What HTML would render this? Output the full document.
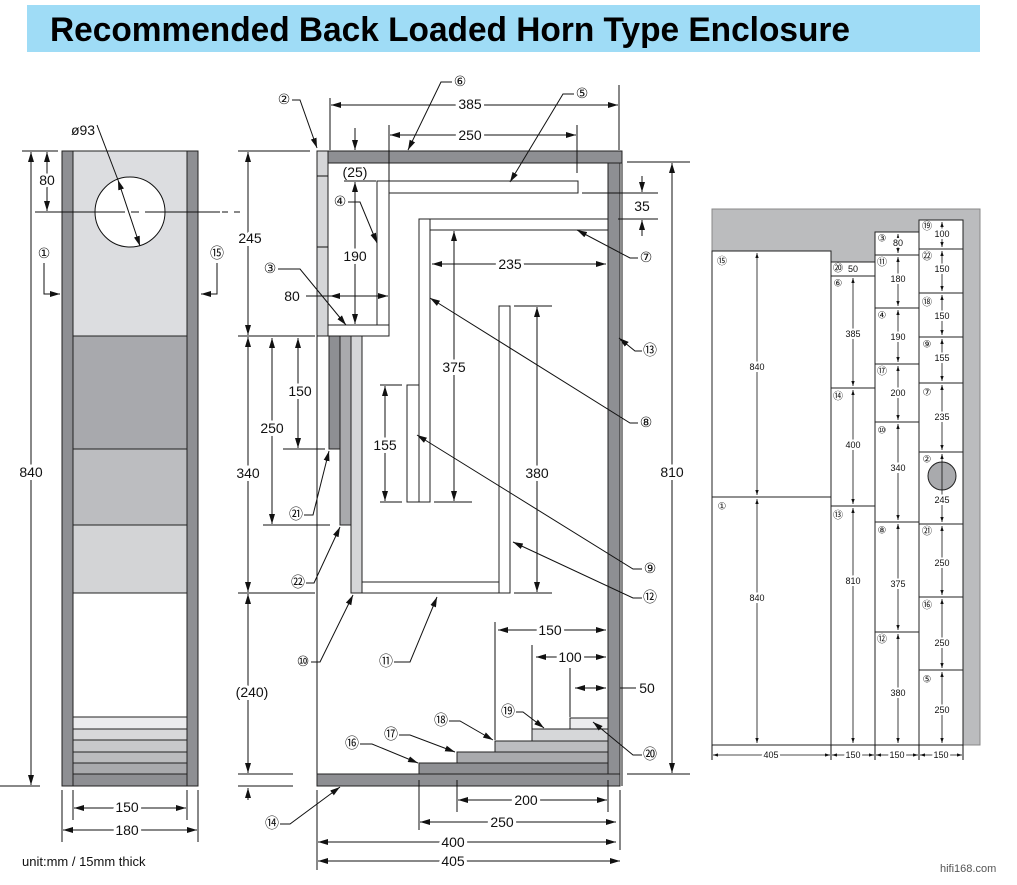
<!DOCTYPE html>
<html><head><meta charset="utf-8"><style>
html,body{margin:0;padding:0;background:#fff}
svg{display:block}
text{font-family:"Liberation Sans","DejaVu Sans",sans-serif;fill:#111}
.d{font-size:14px;text-anchor:middle;dominant-baseline:central;stroke:#fff;stroke-width:6px;paint-order:stroke}
.c{font-family:"DejaVu Sans","Noto Sans CJK JP",sans-serif;font-size:14px;text-anchor:middle;dominant-baseline:central}
.s{font-size:9px;text-anchor:middle;dominant-baseline:central;stroke:#fff;stroke-width:4px;paint-order:stroke}
.sc{font-family:"DejaVu Sans","Noto Sans CJK JP",sans-serif;font-size:10px;text-anchor:middle;dominant-baseline:central}
line,polyline,path{stroke:#111;stroke-width:1;fill:none}
.a{marker-end:url(#ar)}
.aa{marker-start:url(#ar);marker-end:url(#ar)}
.sa{marker-start:url(#sar);marker-end:url(#sar);stroke-width:.8}
rect{stroke:#222;stroke-width:1}
</style></head><body>
<svg width="1017" height="885" viewBox="0 0 1017 885" xmlns="http://www.w3.org/2000/svg">
<defs>
<marker id="ar" viewBox="0 0 10 6" refX="10" refY="3" markerWidth="10" markerHeight="6" markerUnits="userSpaceOnUse" orient="auto-start-reverse"><path d="M0,0 L10,3 L0,6 z" style="fill:#111;stroke:none"/></marker>
<marker id="sar" viewBox="0 0 6 4" refX="6" refY="2" markerWidth="5" markerHeight="4" markerUnits="userSpaceOnUse" orient="auto-start-reverse"><path d="M0,0 L6,2 L0,4 z" style="fill:#111;stroke:none"/></marker>
</defs>
<!-- title -->
<rect x="27" y="5" width="953" height="47" style="fill:#9fdcf6;stroke:none"/>
<text x="50" y="41" textLength="800" lengthAdjust="spacingAndGlyphs" style="font-size:34px;font-weight:bold;fill:#000">Recommended Back Loaded Horn Type Enclosure</text>

<!-- LEFT VIEW -->
<rect x="73" y="151" width="114" height="185" style="fill:#dcdde0"/>
<rect x="73" y="336" width="114" height="113" style="fill:#a8a9ad"/>
<rect x="73" y="449" width="114" height="76" style="fill:#bcbdc0"/>
<rect x="73" y="525" width="114" height="68" style="fill:#d3d4d6"/>
<rect x="73" y="593" width="114" height="124" style="fill:#fff"/>
<rect x="73" y="717" width="114" height="12" style="fill:#ececee"/>
<rect x="73" y="729" width="114" height="11" style="fill:#d8d8da"/>
<rect x="73" y="740" width="114" height="12" style="fill:#c8c9cb"/>
<rect x="73" y="752" width="114" height="11" style="fill:#bbbcbe"/>
<rect x="73" y="763" width="114" height="11" style="fill:#a9aaad"/>
<rect x="73" y="774" width="114" height="12" style="fill:#8e8f93"/>
<rect x="62" y="151" width="11" height="635" style="fill:#8e8f93"/>
<rect x="187" y="151" width="11" height="635" style="fill:#8e8f93"/>
<circle cx="130" cy="212" r="35" style="fill:#fff;stroke:#111;stroke-width:1"/>
<line x1="35" y1="212" x2="220" y2="212" style="stroke-dasharray:90,6,8,6"/>
<line x1="222" y1="212" x2="240" y2="212" style="stroke-dasharray:6,6"/>
<line class="aa" x1="118" y1="180" x2="140" y2="246"/>
<line x1="97" y1="125" x2="118" y2="180"/>
<text class="d" x="83" y="130" style="stroke:none">ø93</text>
<line x1="22" y1="151" x2="58" y2="151"/><line x1="0" y1="786" x2="40" y2="786"/>
<line class="aa" x1="31" y1="152" x2="31" y2="785"/><text class="d" x="31" y="472">840</text>
<line class="aa" x1="47" y1="152" x2="47" y2="211"/><text class="d" x="47" y="180">80</text>
<text class="c" x="44" y="254">①</text><polyline class="a" points="44,263 44,294 60,294"/>
<text class="c" x="217" y="254">⑮</text><polyline class="a" points="217,263 217,294 201,294"/>
<line x1="62" y1="790" x2="62" y2="842"/><line x1="73" y1="790" x2="73" y2="820"/>
<line x1="187" y1="790" x2="187" y2="820"/><line x1="198" y1="790" x2="198" y2="842"/>
<line class="aa" x1="74" y1="808" x2="186" y2="808"/><text class="d" x="127" y="807">150</text>
<line class="aa" x1="63" y1="830" x2="197" y2="830"/><text class="d" x="127" y="830">180</text>
<text x="22" y="866" style="font-size:13px">unit:mm / 15mm thick</text>

<!-- MIDDLE VIEW -->
<line x1="317" y1="336" x2="317" y2="786"/>
<line x1="622" y1="151" x2="622" y2="786"/>
<rect x="317" y="151" width="11" height="185" style="fill:#d5d6d8"/>
<line x1="317" y1="176" x2="328" y2="176"/><line x1="317" y1="247" x2="328" y2="247"/>
<rect x="328" y="151" width="294" height="12" style="fill:#8e8f93"/>
<rect x="608" y="163" width="12" height="611" style="fill:#8e8f93"/>
<rect x="317" y="774" width="303" height="12" style="fill:#8e8f93"/>
<rect x="328" y="325" width="61" height="11" style="fill:#fff"/>
<rect x="377" y="181" width="12" height="144" style="fill:#fff"/>
<rect x="389" y="181" width="189" height="12" style="fill:#fff"/>
<rect x="419" y="219" width="11" height="283" style="fill:#fff"/>
<rect x="430" y="219" width="178" height="11" style="fill:#fff"/>
<rect x="407" y="385" width="12" height="117" style="fill:#fff"/>
<rect x="499" y="306" width="11" height="287" style="fill:#fff"/>
<rect x="362" y="582" width="137" height="11" style="fill:#fff"/>
<rect x="329" y="336" width="11" height="113" style="fill:#8e8f93"/>
<rect x="340" y="336" width="11" height="189" style="fill:#a9aaad"/>
<rect x="351" y="336" width="11" height="257" style="fill:#d5d6d8"/>
<rect x="419" y="763" width="189" height="11" style="fill:#8e8f93"/>
<rect x="457" y="752" width="151" height="11" style="fill:#a9aaad"/>
<rect x="495" y="741" width="113" height="11" style="fill:#bcbdc0"/>
<rect x="532" y="729" width="76" height="12" style="fill:#d6d7d9"/>
<rect x="570" y="718" width="38" height="11" style="fill:#ececee"/>

<!-- middle dims -->
<line x1="330" y1="98" x2="330" y2="150"/><line x1="619" y1="85" x2="619" y2="150"/>
<line class="aa" x1="331" y1="105" x2="618" y2="105"/><text class="d" x="470" y="104">385</text>
<line x1="389" y1="125" x2="389" y2="181"/><line x1="577" y1="125" x2="577" y2="173"/>
<line class="aa" x1="390" y1="135" x2="576" y2="135"/><text class="d" x="470" y="135">250</text>
<line class="a" x1="355" y1="128" x2="355" y2="150"/>
<text class="d" x="355" y="172" style="stroke:none">(25)</text>
<line x1="344" y1="181" x2="376" y2="181"/>
<line class="aa" x1="355" y1="182" x2="355" y2="324"/><text class="d" x="355" y="256">190</text>
<line x1="306" y1="296" x2="330" y2="296"/>
<line class="aa" x1="330" y1="296" x2="388" y2="296"/><text class="d" x="292" y="296" style="stroke:none">80</text>
<line x1="582" y1="193" x2="658" y2="193"/><line x1="618" y1="219" x2="658" y2="219"/>
<line class="a" x1="642" y1="176" x2="642" y2="192"/><line class="a" x1="642" y1="236" x2="642" y2="220"/>
<text class="d" x="642" y="206">35</text>
<line class="aa" x1="432" y1="264" x2="606" y2="264"/><text class="d" x="510" y="264">235</text>
<line class="aa" x1="454" y1="231" x2="454" y2="501"/><text class="d" x="454" y="367">375</text>
<line x1="434" y1="502" x2="472" y2="502"/>
<line x1="380" y1="385" x2="402" y2="385"/><line x1="380" y1="502" x2="402" y2="502"/>
<line class="aa" x1="385" y1="386" x2="385" y2="501"/><text class="d" x="385" y="445">155</text>
<line x1="514" y1="306" x2="552" y2="306"/><line x1="514" y1="593" x2="552" y2="593"/>
<line class="aa" x1="537" y1="307" x2="537" y2="592"/><text class="d" x="537" y="473">380</text>
<line x1="627" y1="162" x2="690" y2="162"/><line x1="627" y1="774" x2="690" y2="774"/>
<line class="aa" x1="672" y1="163" x2="672" y2="773"/><text class="d" x="672" y="472">810</text>
<line x1="238" y1="151" x2="310" y2="151"/><line x1="238" y1="336" x2="315" y2="336"/>
<line x1="238" y1="593" x2="315" y2="593"/><line x1="238" y1="774" x2="293" y2="774"/><line x1="238" y1="786" x2="293" y2="786"/>
<line class="aa" x1="248" y1="152" x2="248" y2="335"/><text class="d" x="250" y="238">245</text>
<line class="aa" x1="248" y1="337" x2="248" y2="592"/><text class="d" x="248" y="473">340</text>
<line class="aa" x1="248" y1="594" x2="248" y2="773"/><text class="d" x="252" y="692">(240)</text>
<line class="a" x1="248" y1="800" x2="248" y2="788"/>
<line x1="263" y1="525" x2="330" y2="525"/><line x1="283" y1="449" x2="325" y2="449"/>
<line class="aa" x1="272" y1="338" x2="272" y2="524"/><text class="d" x="272" y="428">250</text>
<line class="aa" x1="298" y1="338" x2="298" y2="448"/><text class="d" x="300" y="391">150</text>
<line x1="495" y1="622" x2="495" y2="740"/><line x1="532" y1="645" x2="532" y2="729"/><line x1="570" y1="668" x2="570" y2="717"/>
<line class="aa" x1="498" y1="630" x2="606" y2="630"/><text class="d" x="550" y="630">150</text>
<line class="aa" x1="536" y1="657" x2="606" y2="657"/><text class="d" x="570" y="657">100</text>
<line class="aa" x1="575" y1="688" x2="606" y2="688"/><line x1="620" y1="688" x2="636" y2="688"/><text class="d" x="647" y="688">50</text>
<line x1="457" y1="780" x2="457" y2="812"/><line x1="608" y1="780" x2="608" y2="812"/><line x1="419" y1="780" x2="419" y2="830"/>
<line x1="317" y1="790" x2="317" y2="870"/><line x1="620" y1="790" x2="620" y2="850"/>
<line class="aa" x1="458" y1="800" x2="607" y2="800"/><text class="d" x="526" y="800">200</text>
<line class="aa" x1="420" y1="822" x2="616" y2="822"/><text class="d" x="502" y="822">250</text>
<line class="aa" x1="318" y1="842" x2="616" y2="842"/><text class="d" x="453" y="842">400</text>
<line class="aa" x1="318" y1="861" x2="620" y2="861"/><text class="d" x="453" y="861">405</text>

<!-- callouts -->
<text class="c" x="284" y="100">②</text><polyline class="a" points="292,100 300,100 317,148"/>
<text class="c" x="460" y="82">⑥</text><polyline class="a" points="452,82 441,82 408,150"/>
<text class="c" x="582" y="94">⑤</text><polyline class="a" points="574,94 563,94 510,182"/>
<text class="c" x="340" y="202">④</text><polyline class="a" points="348,202 360,202 377,243"/>
<text class="c" x="270" y="269">③</text><polyline class="a" points="278,269 300,269 346,325"/>
<text class="c" x="646" y="258">⑦</text><polyline class="a" points="638,258 630,258 577,230"/>
<text class="c" x="650" y="351">⑬</text><polyline class="a" points="642,351 635,351 619,338"/>
<text class="c" x="646" y="423">⑧</text><polyline class="a" points="638,423 630,423 430,298"/>
<text class="c" x="650" y="569">⑨</text><polyline class="a" points="642,569 633,569 417,435"/>
<text class="c" x="650" y="598">⑫</text><polyline class="a" points="642,598 633,598 513,542"/>
<text class="c" x="296" y="515">㉑</text><polyline class="a" points="304,515 313,515 329,451"/>
<text class="c" x="298" y="583">㉒</text><polyline class="a" points="306,583 314,583 340,527"/>
<text class="c" x="303" y="662">⑩</text><polyline class="a" points="311,662 320,662 353,595"/>
<text class="c" x="386" y="662">⑪</text><polyline class="a" points="394,662 410,662 437,597"/>
<text class="c" x="272" y="824">⑭</text><polyline class="a" points="280,824 290,824 340,787"/>
<text class="c" x="352" y="744">⑯</text><polyline class="a" points="360,744 372,744 418,763"/>
<text class="c" x="391" y="735">⑰</text><polyline class="a" points="399,735 410,735 455,752"/>
<text class="c" x="441" y="721">⑱</text><polyline class="a" points="449,721 460,721 493,740"/>
<text class="c" x="508" y="712">⑲</text><polyline class="a" points="516,712 523,712 544,728"/>
<text class="c" x="650" y="755">⑳</text><polyline class="a" points="642,755 633,755 593,722"/>

<!-- RIGHT VIEW (cut list) -->
<rect x="712" y="209" width="268" height="536" style="fill:#bbbcbe;stroke:#888"/>
<g>
<rect x="712" y="251" width="119" height="246" style="fill:#fff"/>
<rect x="712" y="497" width="119" height="248" style="fill:#fff"/>
<rect x="831" y="262" width="44" height="14" style="fill:#fff"/>
<rect x="831" y="276" width="44" height="112" style="fill:#fff"/>
<rect x="831" y="388" width="44" height="118" style="fill:#fff"/>
<rect x="831" y="506" width="44" height="239" style="fill:#fff"/>
<rect x="875" y="232" width="44" height="23" style="fill:#fff"/>
<rect x="875" y="255" width="44" height="53" style="fill:#fff"/>
<rect x="875" y="308" width="44" height="56" style="fill:#fff"/>
<rect x="875" y="364" width="44" height="58" style="fill:#fff"/>
<rect x="875" y="422" width="44" height="100" style="fill:#fff"/>
<rect x="875" y="522" width="44" height="110" style="fill:#fff"/>
<rect x="875" y="632" width="44" height="113" style="fill:#fff"/>
<rect x="919" y="220" width="44" height="29" style="fill:#fff"/>
<rect x="919" y="249" width="44" height="44" style="fill:#fff"/>
<rect x="919" y="293" width="44" height="44" style="fill:#fff"/>
<rect x="919" y="337" width="44" height="46" style="fill:#fff"/>
<rect x="919" y="383" width="44" height="69" style="fill:#fff"/>
<rect x="919" y="452" width="44" height="72" style="fill:#fff"/>
<rect x="919" y="524" width="44" height="73" style="fill:#fff"/>
<rect x="919" y="597" width="44" height="73" style="fill:#fff"/>
<rect x="919" y="670" width="44" height="75" style="fill:#fff"/>
</g>
<circle cx="942" cy="476" r="14" style="fill:#a9aaad;stroke:#222;stroke-width:1"/>
<line class="sa" x1="757" y1="253" x2="757" y2="495"/><line class="sa" x1="757" y1="499" x2="757" y2="743"/>
<line class="sa" x1="853" y1="278" x2="853" y2="386"/><line class="sa" x1="853" y1="390" x2="853" y2="504"/><line class="sa" x1="853" y1="508" x2="853" y2="743"/>
<line class="sa" x1="898" y1="234" x2="898" y2="253"/><line class="sa" x1="898" y1="257" x2="898" y2="306"/><line class="sa" x1="898" y1="310" x2="898" y2="362"/><line class="sa" x1="898" y1="366" x2="898" y2="420"/><line class="sa" x1="898" y1="424" x2="898" y2="520"/><line class="sa" x1="898" y1="524" x2="898" y2="630"/><line class="sa" x1="898" y1="634" x2="898" y2="743"/>
<line class="sa" x1="942" y1="222" x2="942" y2="247"/><line class="sa" x1="942" y1="251" x2="942" y2="291"/><line class="sa" x1="942" y1="295" x2="942" y2="335"/><line class="sa" x1="942" y1="339" x2="942" y2="381"/><line class="sa" x1="942" y1="385" x2="942" y2="450"/><line class="sa" x1="942" y1="454" x2="942" y2="522"/><line class="sa" x1="942" y1="526" x2="942" y2="595"/><line class="sa" x1="942" y1="599" x2="942" y2="668"/><line class="sa" x1="942" y1="672" x2="942" y2="743"/>
<text class="s" x="757" y="367">840</text><text class="s" x="757" y="598">840</text>
<text class="s" x="853" y="334">385</text><text class="s" x="853" y="445">400</text><text class="s" x="853" y="581">810</text>
<text class="s" x="853" y="269">50</text>
<text class="s" x="898" y="243">80</text><text class="s" x="898" y="279">180</text><text class="s" x="898" y="337">190</text><text class="s" x="898" y="393">200</text><text class="s" x="898" y="468">340</text><text class="s" x="898" y="584">375</text><text class="s" x="898" y="693">380</text>
<text class="s" x="942" y="234">100</text><text class="s" x="942" y="269">150</text><text class="s" x="942" y="316">150</text><text class="s" x="942" y="358">155</text><text class="s" x="942" y="417">235</text><text class="s" x="942" y="500">245</text><text class="s" x="942" y="563">250</text><text class="s" x="942" y="643">250</text><text class="s" x="942" y="710">250</text>
<text class="sc" x="722" y="262">⑮</text><text class="sc" x="722" y="507">①</text>
<text class="sc" x="838" y="269">⑳</text><text class="sc" x="838" y="284">⑥</text><text class="sc" x="838" y="397">⑭</text><text class="sc" x="838" y="516">⑬</text>
<text class="sc" x="882" y="239">③</text><text class="sc" x="882" y="263">⑪</text><text class="sc" x="882" y="316">④</text><text class="sc" x="882" y="372">⑰</text><text class="sc" x="882" y="431">⑩</text><text class="sc" x="882" y="531">⑧</text><text class="sc" x="882" y="640">⑫</text>
<text class="sc" x="927" y="227">⑲</text><text class="sc" x="927" y="257">㉒</text><text class="sc" x="927" y="303">⑱</text><text class="sc" x="927" y="345">⑨</text><text class="sc" x="927" y="393">⑦</text><text class="sc" x="927" y="460">②</text><text class="sc" x="927" y="532">㉑</text><text class="sc" x="927" y="606">⑯</text><text class="sc" x="927" y="680">⑤</text>
<line x1="712" y1="745" x2="712" y2="760"/><line x1="831" y1="745" x2="831" y2="760"/><line x1="875" y1="745" x2="875" y2="760"/><line x1="919" y1="745" x2="919" y2="760"/><line x1="963" y1="745" x2="963" y2="760"/>
<line class="sa" x1="713" y1="755" x2="830" y2="755"/><line class="sa" x1="832" y1="755" x2="874" y2="755"/><line class="sa" x1="876" y1="755" x2="918" y2="755"/><line class="sa" x1="920" y1="755" x2="962" y2="755"/>
<text class="s" x="771" y="755">405</text><text class="s" x="853" y="755">150</text><text class="s" x="897" y="755">150</text><text class="s" x="941" y="755">150</text>
<text x="940" y="872" style="font-size:11px;fill:#555">hifi168.com</text>
</svg>
</body></html>
